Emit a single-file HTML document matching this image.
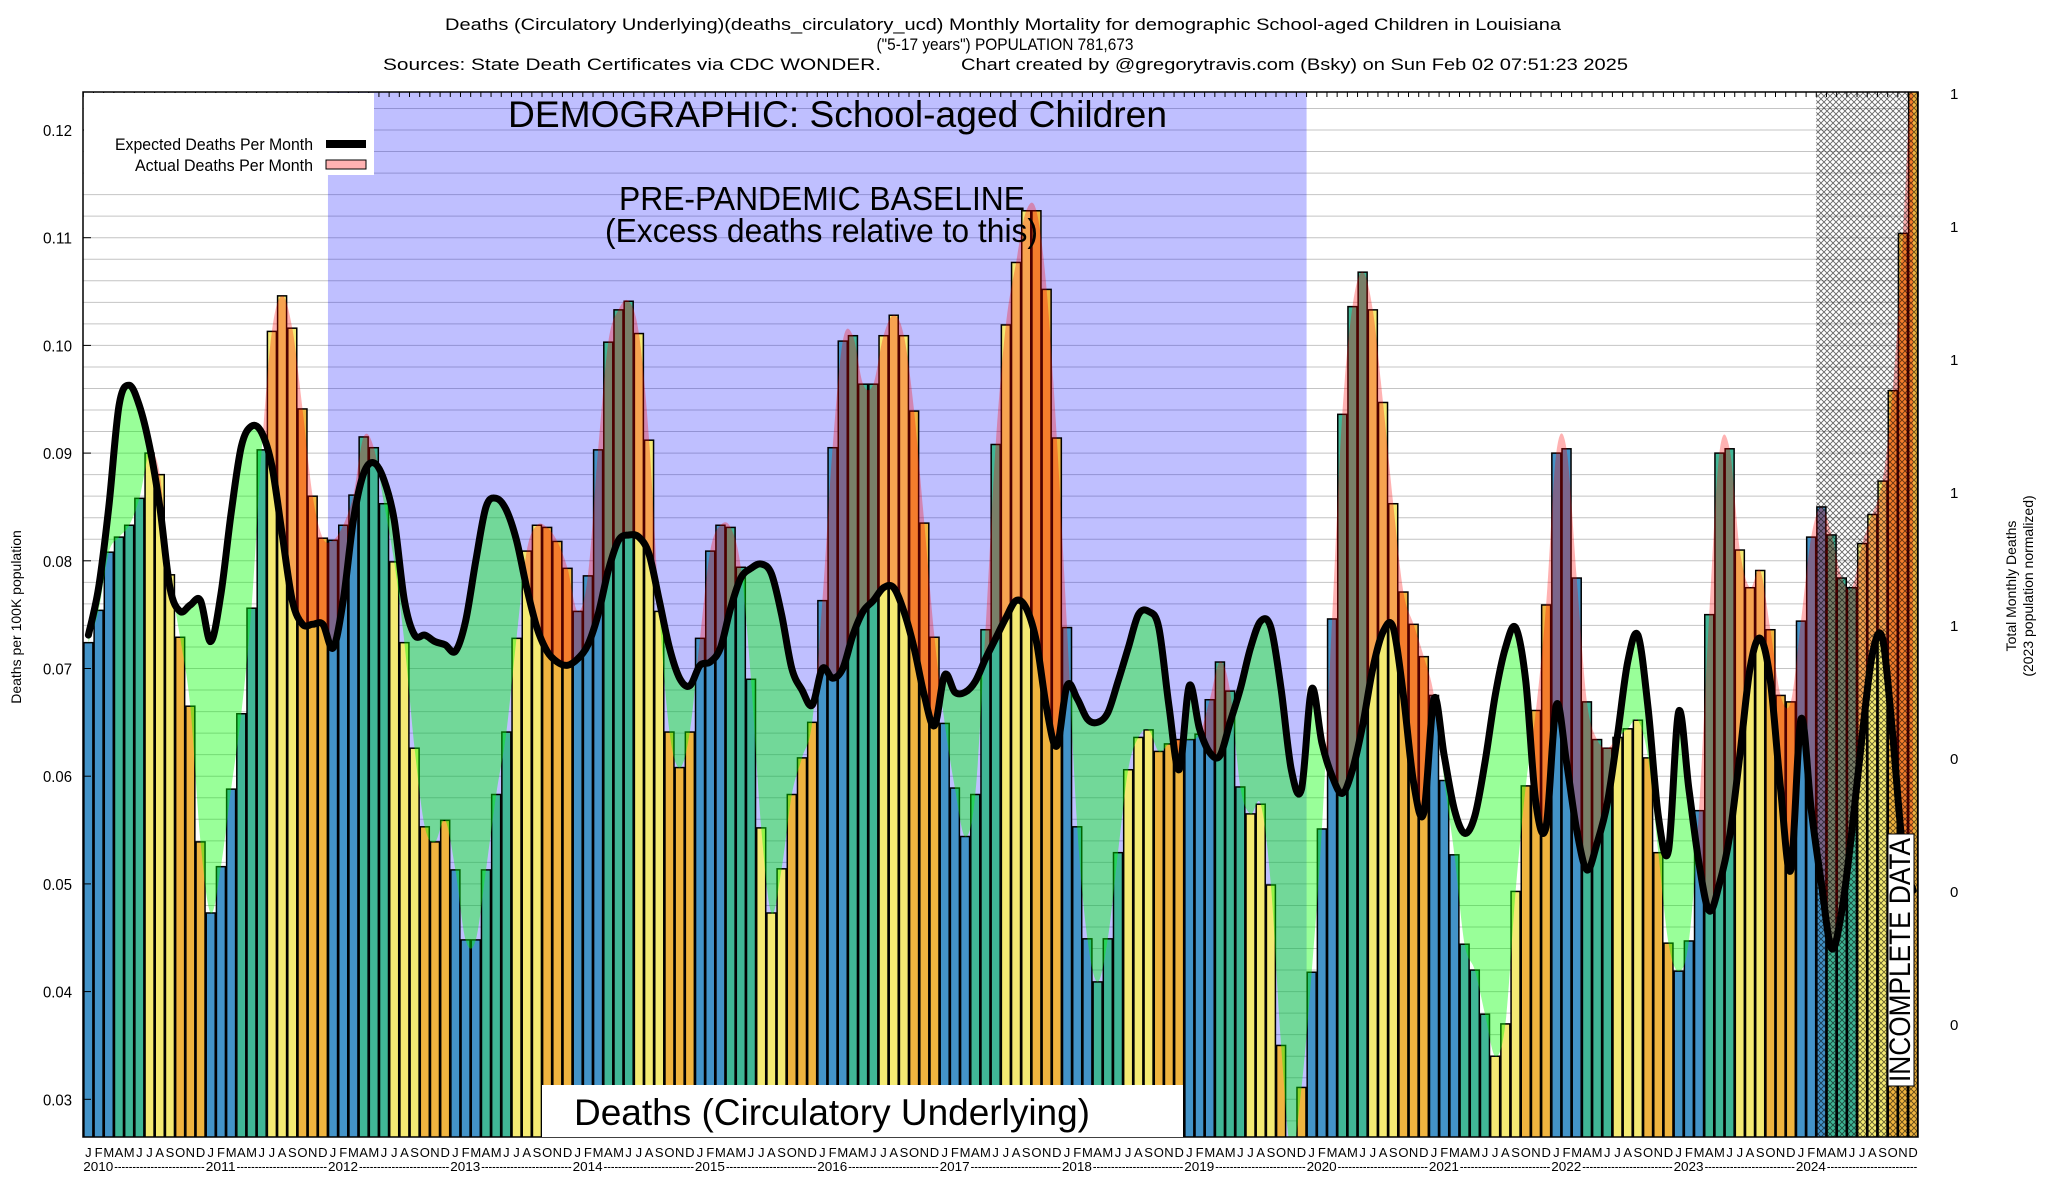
<!DOCTYPE html>
<html><head><meta charset="utf-8">
<style>
html,body{margin:0;padding:0;background:#fff;width:2048px;height:1200px;overflow:hidden;}
svg{display:block;font-family:"Liberation Sans",sans-serif;overflow:hidden;}
</style></head>
<body>
<svg id="chart" width="2048" height="1200" viewBox="0 0 2048 1200" xmlns="http://www.w3.org/2000/svg">
<defs>
  <pattern id="hatch" width="6" height="6" patternUnits="userSpaceOnUse">
    <path d="M0 0 L6 6 M6 0 L0 6" stroke="#000" stroke-width="0.9" opacity="0.6"/>
  </pattern>
  <clipPath id="plotClip"><rect x="83" y="92" width="1835" height="1045"/></clipPath>
</defs>
<rect x="0" y="0" width="2048" height="1200" fill="#fff"/>
<g id="grid"></g>
<g id="marks" clip-path="url(#plotClip)"></g>
<g id="axes"></g>

<g font-size="17" fill="#000">
  <text x="1003" y="30" text-anchor="middle" textLength="1116" lengthAdjust="spacingAndGlyphs">Deaths (Circulatory Underlying)(deaths_circulatory_ucd) Monthly Mortality for demographic School-aged Children in Louisiana</text>
  <text x="1005" y="50" text-anchor="middle" textLength="257" lengthAdjust="spacingAndGlyphs">("5-17 years") POPULATION 781,673</text>
  <text x="383" y="70" textLength="498" lengthAdjust="spacingAndGlyphs">Sources: State Death Certificates via CDC WONDER.</text>
  <text x="961" y="70" textLength="667" lengthAdjust="spacingAndGlyphs">Chart created by @gregorytravis.com (Bsky) on Sun Feb 02 07:51:23 2025</text>
</g>

<g>
  <rect x="84" y="93" width="290" height="82" fill="#fff"/>
  <text x="313" y="150" font-size="17" text-anchor="end" textLength="198" lengthAdjust="spacingAndGlyphs">Expected Deaths Per Month</text>
  <rect x="326" y="140" width="40" height="8" fill="#000"/>
  <text x="313" y="171" font-size="17" text-anchor="end" textLength="178" lengthAdjust="spacingAndGlyphs">Actual Deaths Per Month</text>
  <rect x="326" y="160" width="40" height="9" fill="#ffb2b2" stroke="#000" stroke-width="1"/>
</g>

<g>
  <text x="508" y="127" font-size="37" textLength="659" lengthAdjust="spacingAndGlyphs">DEMOGRAPHIC: School-aged Children</text>
  <text x="619" y="210" font-size="33" textLength="406" lengthAdjust="spacingAndGlyphs">PRE-PANDEMIC BASELINE</text>
  <text x="605" y="242" font-size="33" textLength="433" lengthAdjust="spacingAndGlyphs">(Excess deaths relative to this)</text>
  <rect x="542" y="1085" width="641" height="52" fill="#fff"/>
  <text x="574" y="1125" font-size="37" textLength="516" lengthAdjust="spacingAndGlyphs">Deaths (Circulatory Underlying)</text>
  <rect x="1888" y="834" width="26" height="252" fill="#fff" stroke="#000" stroke-width="1"/>
  <text transform="translate(1910,1082) rotate(-90)" font-size="30" textLength="244" lengthAdjust="spacingAndGlyphs">INCOMPLETE DATA</text>
</g>

<text transform="translate(21,617) rotate(-90)" font-size="14" text-anchor="middle">Deaths per 100K population</text>
<text transform="translate(2016,586) rotate(-90)" font-size="14" text-anchor="middle">Total Monthly Deaths</text>
<text transform="translate(2033,586) rotate(-90)" font-size="14" text-anchor="middle">(2023 population normalized)</text>
</svg>

<script>
const actual = [
0.0724,0.0754,0.0808,0.0822,0.0833,0.0858,0.0900,0.0880,0.0787,0.0729,0.0665,0.0539,
0.0473,0.0516,0.0588,0.0658,0.0756,0.0903,0.1013,0.1046,0.1016,0.0941,0.0860,0.0821,
0.0819,0.0833,0.0861,0.0915,0.0905,0.0853,0.0799,0.0724,0.0626,0.0553,0.0539,0.0559,
0.0513,0.0448,0.0448,0.0513,0.0583,0.0641,0.0728,0.0809,0.0833,0.0831,0.0818,0.0793,
0.0753,0.0786,0.0903,0.1003,0.1033,0.1041,0.1011,0.0912,0.0753,0.0641,0.0608,0.0641,
0.0728,0.0809,0.0833,0.0831,0.0794,0.0690,0.0552,0.0473,0.0514,0.0583,0.0617,0.0650,
0.0763,0.0905,0.1004,0.1009,0.0964,0.0964,0.1009,0.1028,0.1009,0.0939,0.0835,0.0729,
0.0649,0.0589,0.0544,0.0583,0.0736,0.0908,0.1019,0.1077,0.1125,0.1125,0.1052,0.0914,
0.0738,0.0553,0.0449,0.0409,0.0449,0.0529,0.0606,0.0636,0.0643,0.0623,0.0630,0.0634,
0.0634,0.0639,0.0671,0.0706,0.0679,0.0590,0.0565,0.0574,0.0499,0.0350,0.0250,0.0311,
0.0418,0.0551,0.0746,0.0936,0.1036,0.1068,0.1033,0.0947,0.0853,0.0771,0.0741,0.0711,
0.0675,0.0596,0.0527,0.0444,0.0420,0.0379,0.0340,0.0370,0.0493,0.0591,0.0661,0.0759,
0.0900,0.0904,0.0784,0.0669,0.0634,0.0626,0.0636,0.0644,0.0652,0.0617,0.0529,0.0445,
0.0419,0.0447,0.0568,0.0750,0.0900,0.0904,0.0810,0.0775,0.0791,0.0736,0.0675,0.0669,
0.0744,0.0822,0.0850,0.0824,0.0784,0.0775,0.0816,0.0843,0.0874,0.0958,0.1104,0.1300];
const expected = [
0.0731,0.0775,0.0850,0.0944,0.0963,0.0944,0.0906,0.0850,0.0775,0.0753,0.0759,0.0763,
0.0725,0.0769,0.0844,0.0906,0.0925,0.0919,0.0888,0.0825,0.0763,0.0741,0.0741,0.0741,
0.0719,0.0763,0.0838,0.0881,0.0891,0.0875,0.0838,0.0763,0.0731,0.0731,0.0725,0.0722,
0.0716,0.0744,0.0800,0.0850,0.0858,0.0847,0.0819,0.0775,0.0738,0.0716,0.0706,0.0703,
0.0709,0.0722,0.0750,0.0791,0.0819,0.0824,0.0822,0.0806,0.0763,0.0719,0.0691,0.0684,
0.0703,0.0706,0.0719,0.0756,0.0784,0.0793,0.0797,0.0788,0.0750,0.0700,0.0680,0.0666,
0.0700,0.0691,0.0700,0.0731,0.0753,0.0763,0.0775,0.0775,0.0753,0.0719,0.0675,0.0647,
0.0694,0.0678,0.0678,0.0688,0.0709,0.0728,0.0747,0.0763,0.0756,0.0725,0.0663,0.0628,
0.0684,0.0672,0.0653,0.0650,0.0659,0.0688,0.0719,0.0750,0.0753,0.0738,0.0665,0.0606,
0.0684,0.0644,0.0622,0.0619,0.0650,0.0681,0.0719,0.0744,0.0738,0.0681,0.0606,0.0588,
0.0681,0.0631,0.0600,0.0584,0.0606,0.0647,0.0700,0.0734,0.0738,0.0675,0.0594,0.0566,
0.0672,0.0619,0.0569,0.0547,0.0563,0.0613,0.0675,0.0719,0.0738,0.0688,0.0575,0.0553,
0.0666,0.0613,0.0550,0.0513,0.0538,0.0575,0.0638,0.0706,0.0731,0.0663,0.0563,0.0531,
0.0660,0.0588,0.0519,0.0475,0.0500,0.0544,0.0619,0.0700,0.0728,0.0688,0.0588,0.0513,
0.0653,0.0569,0.0500,0.0440,0.0475,0.0550,0.0638,0.0713,0.0728,0.0638,0.0531,0.0494];
const monthLetters = ["J","F","M","A","M","J","J","A","S","O","N","D"];
const years = [2010,2011,2012,2013,2014,2015,2016,2017,2018,2019,2020,2021,2022,2023,2024];
const yTicks = [0.03,0.04,0.05,0.06,0.07,0.08,0.09,0.10,0.11,0.12];
const yTickLabels = ["0.03","0.04","0.05","0.06","0.07","0.08","0.09","0.10","0.11","0.12"];
const rightTickLabels = ["1","1","1","1","1","0","0","0"];
const baselineStart = 24, baselineEnd = 120, incompleteStart = 170;

const NS = "http://www.w3.org/2000/svg";
const X0 = 83.3, STEP = 10.194, PLOT_L = 83, PLOT_R = 1918, PLOT_T = 92, PLOT_B = 1137;
function xOf(i){ return X0 + i*STEP; }
function xc(i){ return xOf(i) + STEP/2; }
function yOf(v){ return 130 + (0.12 - v)*10770; }
function mk(tag, attrs, parent){
  const e = document.createElementNS(NS, tag);
  for (const k in attrs) e.setAttribute(k, attrs[k]);
  parent.appendChild(e); return e;
}
function spline(pts){
  let d = "M" + pts[0][0].toFixed(1) + " " + pts[0][1].toFixed(1);
  for (let i=0;i<pts.length-1;i++){
    const p0 = pts[Math.max(0,i-1)], p1 = pts[i], p2 = pts[i+1], p3 = pts[Math.min(pts.length-1,i+2)];
    const c1x = p1[0]+(p2[0]-p0[0])/6, c1y = p1[1]+(p2[1]-p0[1])/6;
    const c2x = p2[0]-(p3[0]-p1[0])/6, c2y = p2[1]-(p3[1]-p1[1])/6;
    d += " C"+c1x.toFixed(1)+" "+c1y.toFixed(1)+" "+c2x.toFixed(1)+" "+c2y.toFixed(1)+" "+p2[0].toFixed(1)+" "+p2[1].toFixed(1);
  }
  return d;
}

const grid = document.getElementById("grid");
for (let v=0.028; v<=0.1235; v+=0.002){
  const g = mk("line",{x1:PLOT_L,x2:PLOT_R,y1:yOf(v),y2:yOf(v),stroke:"#c4c4c4","stroke-width":1},grid);
  
  
}

const marks = document.getElementById("marks");
const defs = document.querySelector("defs");
const bg = mk("rect",{x:xOf(baselineStart),y:PLOT_T,width:xOf(baselineEnd)-xOf(baselineStart),height:PLOT_B-PLOT_T,fill:"rgba(0,0,255,0.25)"},marks);



const colors = ["#4393c8","#4393c8","#4393c8","#40b696","#40b696","#40b696","#f4ea73","#f4ea73","#f4ea73","#efb43f","#efb43f","#efb43f"];
for (let i=0;i<actual.length;i++){
  const top = Math.max(yOf(actual[i]), PLOT_T-5);
  if (top >= PLOT_B) continue;
  const b = mk("rect",{x:xOf(i)+0.6,y:top,width:STEP-1.2,height:PLOT_B-top+1,fill:colors[i%12],stroke:"#000","stroke-width":1.5},marks);
  
  
}

const aPts = actual.map((v,i)=>[xc(i), yOf(v)]);
const ePts = expected.map((v,i)=>[xc(i), yOf(v)]);
const aPath = spline(aPts), ePath = spline(ePts);
const xs = xc(0), xe = xc(actual.length-1);
const BOT = PLOT_B + 5, TOP = PLOT_T - 5;
function clip(id, d){ const c = mk("clipPath",{id:id},defs); mk("path",{d:d},c); }
clip("aboveActual", aPath+" L"+xe+" "+TOP+" L"+xs+" "+TOP+" Z");
clip("aboveExpected", ePath+" L"+xe+" "+TOP+" L"+xs+" "+TOP+" Z");
const gGreen = mk("g",{"clip-path":"url(#aboveActual)"},marks);


const gf = mk("path",{d:ePath+" L"+xe+" "+BOT+" L"+xs+" "+BOT+" Z",fill:"rgba(0,255,0,0.4)"},gGreen);


const gRed = mk("g",{"clip-path":"url(#aboveExpected)"},marks);


const rf = mk("path",{d:aPath+" L"+xe+" "+BOT+" L"+xs+" "+BOT+" Z",fill:"rgba(255,0,0,0.3)"},gRed);



const hx = xOf(incompleteStart);
const hatchBars = mk("rect",{x:hx,y:PLOT_T,width:PLOT_R-hx,height:PLOT_B-PLOT_T,fill:"url(#hatch)"},marks);



const eLine = mk("path",{d:ePath,fill:"none",stroke:"#000","stroke-width":7,"stroke-linejoin":"round","stroke-linecap":"round"},marks);



const axes = document.getElementById("axes");
const border = mk("rect",{x:PLOT_L,y:PLOT_T,width:PLOT_R-PLOT_L,height:PLOT_B-PLOT_T,fill:"none",stroke:"#000","stroke-width":1.5},axes);


for (let i=0;i<=actual.length;i++){
  const t = mk("line",{x1:xOf(i),x2:xOf(i),y1:PLOT_T,y2:PLOT_T+5,stroke:"#000","stroke-width":1},axes);
  
  
}
yTicks.forEach((v,k)=>{
  const t = mk("line",{x1:PLOT_L,x2:PLOT_L+8,y1:yOf(v),y2:yOf(v),stroke:"#000","stroke-width":1},axes);
  
  
  const l = mk("text",{x:72,y:yOf(v)+6,"font-size":16,"text-anchor":"end",textLength:29,lengthAdjust:"spacingAndGlyphs"},axes);
  l.textContent = yTickLabels[k];
  
  
});
rightTickLabels.forEach((s,k)=>{
  const l = mk("text",{x:1950,y:99+k*133,"font-size":15},axes);
  l.textContent = s;
  
  
});
for (let i=0;i<actual.length;i++){
  const l = mk("text",{x:xc(i),y:1157,"font-size":13,"text-anchor":"middle"},axes);
  l.textContent = monthLetters[i%12];
  
  
}
years.forEach((yr,k)=>{
  const x = xOf(k*12);
  const l = mk("text",{x:x,y:1171,"font-size":13,textLength:30,lengthAdjust:"spacingAndGlyphs"},axes);
  l.textContent = String(yr);
  
  
  const d = mk("text",{x:x+31,y:1171,"font-size":13,textLength:12*STEP-32,lengthAdjust:"spacingAndGlyphs"},axes);
  d.textContent = "-------------------------";
  
  
});
</script>
</body></html>
